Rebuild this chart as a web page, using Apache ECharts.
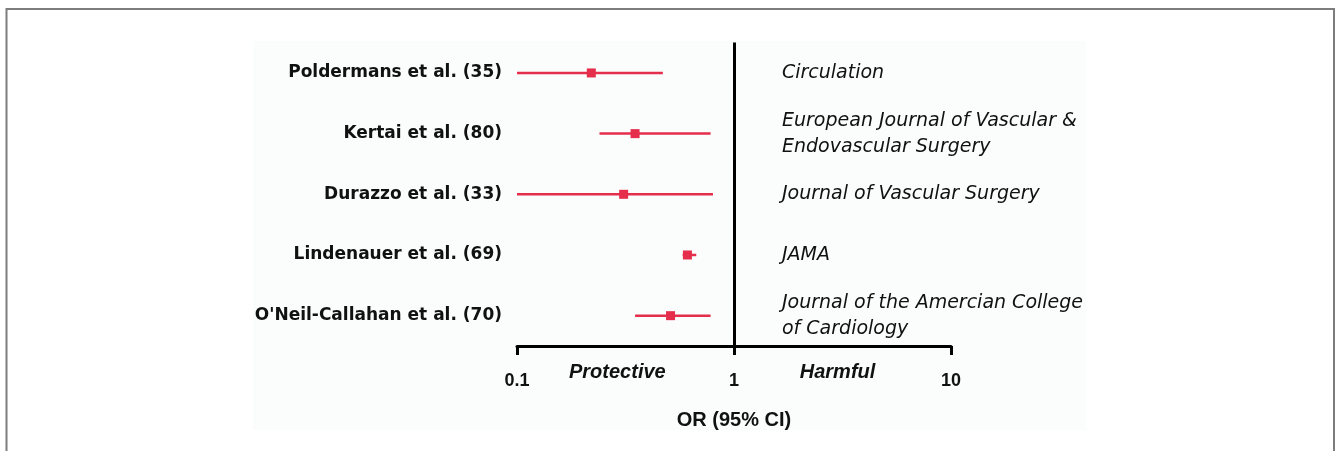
<!DOCTYPE html>
<html><head><meta charset="utf-8">
<script src="https://cdn.jsdelivr.net/npm/echarts@6/dist/echarts.min.js"></script>
<style>html,body{margin:0;padding:0;background:#fff}#c{width:1339px;height:451px}</style>
</head><body><div id="c"></div>
<script>
const studies = ["Poldermans et al. (35)", "Kertai et al. (80)", "Durazzo et al. (33)", "Lindenauer et al. (69)", "O'Neil-Callahan et al. (70)"];
const journals = ["Circulation", "European Journal of Vascular &\nEndovascular Surgery", "Journal of Vascular Surgery", "JAMA", "Journal of the Amercian College\nof Cardiology"];
const oddsRatio = [0.22, 0.35, 0.31, 0.61, 0.51];
const ciLower = [0.10, 0.24, 0.10, 0.58, 0.35];
const ciUpper = [0.47, 0.78, 0.80, 0.67, 0.78];
const regionLabels = ["Protective", "Harmful"];
const regionCentres = [0.29, 3.0];
const axisTitle = "OR (95% CI)";

const RED = '#e42e4c';
const chart = echarts.init(document.getElementById('c'), null, {renderer: 'canvas'});
const option = {
  animation: false,
  backgroundColor: '#ffffff',
  grid: {left: 517, right: 388, top: 42.6, bottom: 105, containLabel: false},
  xAxis: {
    type: 'log', logBase: 10, min: 0.1, max: 10,
    axisLine: {show: true, lineStyle: {color: '#000', width: 3}},
    axisTick: {show: true, length: 9, lineStyle: {color: '#000', width: 3}},
    minorTick: {show: false},
    splitLine: {show: false},
    axisLabel: {
      margin: 26, fontFamily: 'Liberation Sans', fontWeight: 'bold', fontSize: 18, color: '#111',
      formatter: v => String(+v.toPrecision(3))
    },
    name: axisTitle, nameLocation: 'middle', nameGap: 64,
    nameTextStyle: {fontFamily: 'Liberation Sans', fontWeight: 'bold', fontSize: 20, color: '#111'}
  },
  yAxis: [{
    type: 'category', data: studies, inverse: true,
    axisLine: {show: false}, axisTick: {show: false}, splitLine: {show: false},
    axisLabel: {margin: 15, fontFamily: 'DejaVu Sans', fontWeight: 'bold', fontSize: 17, color: '#111'}
  }, {
    type: 'category', data: journals, inverse: true, position: 'right', offset: -169,
    axisLine: {show: false}, axisTick: {show: false}, splitLine: {show: false},
    axisLabel: {margin: 0, align: 'left', fontFamily: 'DejaVu Sans', fontStyle: 'italic', fontSize: 19, lineHeight: 26, color: '#111'}
  }],
  series: [{
    type: 'custom',
    data: studies.map((s, i) => [ciLower[i], ciUpper[i], i]),
    encode: {x: [0, 1], y: 2},
    renderItem: (params, api) => {
      const p1 = api.coord([api.value(0), api.value(2)]);
      const p2 = api.coord([api.value(1), api.value(2)]);
      return {type: 'line', shape: {x1: p1[0], y1: p1[1], x2: p2[0], y2: p2[1]},
        style: {stroke: RED, lineWidth: 2.5}};
    },
    z: 2
  }, {
    type: 'scatter',
    data: oddsRatio.map((v, i) => [v, i]),
    symbol: 'rect', symbolSize: 9,
    itemStyle: {color: RED, opacity: 1},
    z: 3,
    markLine: {
      silent: true, symbol: 'none', label: {show: false},
      lineStyle: {color: '#000', width: 3, type: 'solid', opacity: 1},
      data: [{xAxis: 1}]
    }
  }]
};
chart.setOption(option);

const graphics = [
  {type: 'rect', z: -10, silent: true, shape: {x: 253, y: 41, width: 833, height: 389}, style: {fill: '#fbfcfc'}},
  {type: 'polyline', silent: true, shape: {points: [[6.5, 451], [6.5, 9], [1334, 9], [1334, 451]]}, style: {stroke: '#7d7d7d', lineWidth: 2, fill: null}}
];
regionLabels.forEach((t, i) => {
  const x = chart.convertToPixel({xAxisIndex: 0}, regionCentres[i]);
  graphics.push({type: 'text', silent: true, x: x, y: 372,
    style: {text: t, align: 'center', verticalAlign: 'middle', fontFamily: 'Liberation Sans', fontWeight: 'bold', fontStyle: 'italic', fontSize: 20, fill: '#111'}});
});
chart.setOption({graphic: graphics});
</script></body></html>
